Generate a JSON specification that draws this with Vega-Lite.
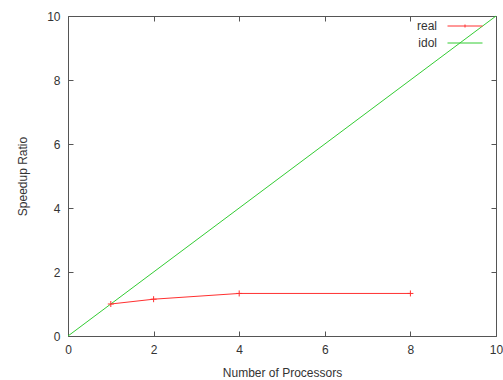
{
  "$schema": "https://vega.github.io/schema/vega-lite/v6.json",
  "width": 428,
  "height": 320,
  "autosize": {"type": "none"},
  "padding": {"left": 68, "top": 16, "right": 7, "bottom": 44},
  "background": "white",
  "config": {
    "font": "Liberation Sans",
    "view": {"stroke": "#555555", "strokeWidth": 1},
    "axis": {
      "domain": false,
      "grid": false,
      "tickSize": -5,
      "tickColor": "#555555",
      "labelFont": "Liberation Sans",
      "labelFontSize": 12,
      "labelColor": "#333333",
      "labelPadding": 13,
      "titleFont": "Liberation Sans",
      "titleFontSize": 12,
      "titleFontWeight": "normal",
      "titleColor": "#333333"
    }
  },
  "data": {
    "values": [
      {"processors": 1, "speedup": 1.0, "series": "real"},
      {"processors": 2, "speedup": 1.15, "series": "real"},
      {"processors": 4, "speedup": 1.33, "series": "real"},
      {"processors": 8, "speedup": 1.33, "series": "real"},
      {"processors": 0, "speedup": 0, "series": "idol"},
      {"processors": 10, "speedup": 10, "series": "idol"}
    ]
  },
  "layer": [
    {
      "mark": {"type": "line", "strokeWidth": 1},
      "encoding": {
        "x": {
          "field": "processors", "type": "quantitative",
          "scale": {"domain": [0, 10], "nice": false},
          "axis": {"values": [0, 2, 4, 6, 8, 10], "title": "Number of Processors", "titlePadding": 12, "labelFlush": false}
        },
        "y": {
          "field": "speedup", "type": "quantitative",
          "scale": {"domain": [0, 10], "nice": false},
          "axis": {"values": [0, 2, 4, 6, 8, 10], "title": "Speedup Ratio", "titlePadding": 17, "labelFlush": false}
        },
        "color": {
          "field": "series", "type": "nominal",
          "scale": {"domain": ["real", "idol"], "range": ["#ff3030", "#33cc33"]},
          "legend": {
            "title": null,
            "orient": "none",
            "legendX": 391,
            "legendY": 4,
            "padding": 0,
            "symbolSize": 100,
            "symbolType": "M-3.5,0H3.5",
            "symbolStrokeWidth": 1,
            "labelAlign": "right",
            "labelOffset": -34,
            "labelFontSize": 12,
            "labelColor": "#333333",
            "labelFont": "Liberation Sans",
            "rowPadding": 5,
            "encode": {
              "symbols": {
                "update": {
                  "shape": {"signal": "datum.value === 'real' ? 'M-3.5,0H3.5M0,-0.3V0.3' : 'M-3.5,0H3.5'"}
                }
              }
            }
          }
        }
      }
    },
    {
      "transform": [{"filter": "datum.series === 'real'"}],
      "mark": {"type": "point", "shape": "M-1,0H1M0,-1V1", "filled": false, "size": 36, "strokeWidth": 1, "opacity": 1},
      "encoding": {
        "x": {
          "field": "processors", "type": "quantitative",
          "axis": {"orient": "top", "values": [0, 2, 4, 6, 8, 10], "labels": false, "title": null}
        },
        "y": {
          "field": "speedup", "type": "quantitative",
          "axis": {"orient": "right", "values": [0, 2, 4, 6, 8, 10], "labels": false, "title": null}
        },
        "color": {"field": "series", "type": "nominal"}
      }
    }
  ],
  "resolve": {"axis": {"x": "independent", "y": "independent"}}
}
